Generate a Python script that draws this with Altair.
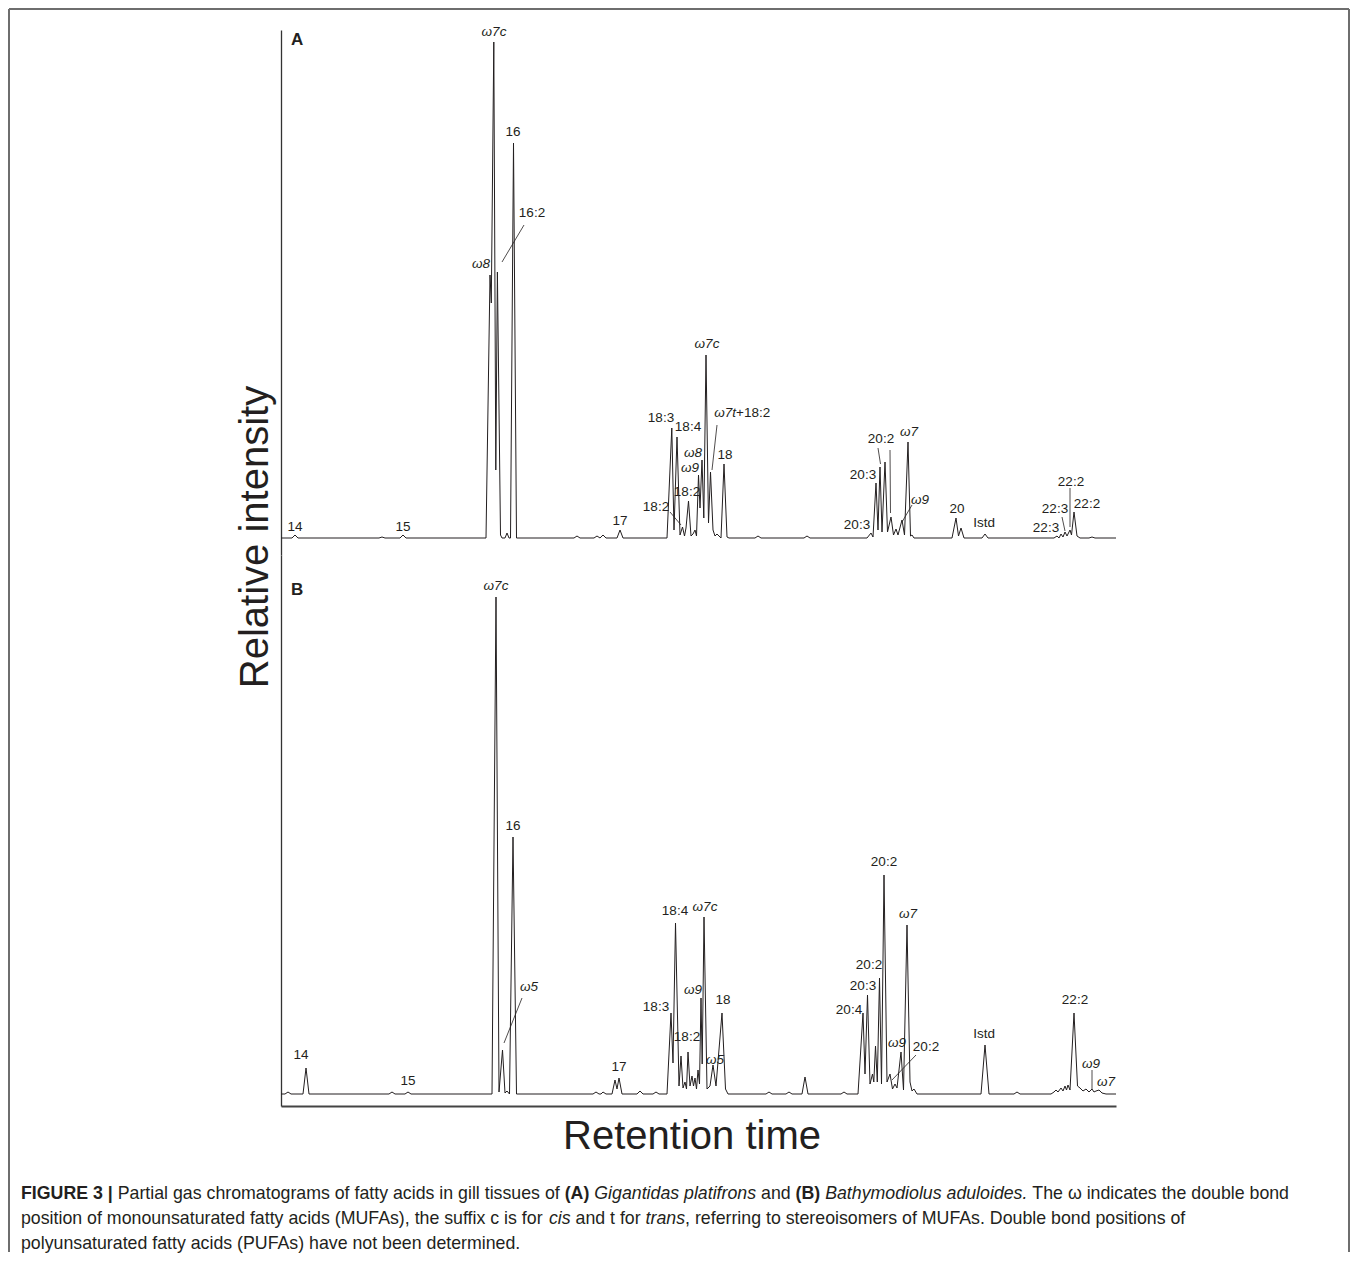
import altair as alt
import pandas as pd

FONT = "Liberation Sans"
INK = "#231f20"

# ---------------- Panel A : Gigantidas platifrons ----------------
# chromatogram vertices: (retention position, relative intensity)
trace_a = [
    (282, 0), (293, 0), (296, 3), (299, 0), (380, 0), (383, 1), (386, 0),
    (401, 0), (404, 3), (407, 0), (487, 0), (491, 263), (492.3, 235),
    (494.8, 496), (496.8, 68), (498.4, 266), (501.5, 3), (503, 0),
    (506, 0), (508, 5), (510, 0), (511.5, 0), (514.5, 395), (517.5, 0),
    (575, 0), (578, 2), (581, 0), (595, 0), (598, 2), (601, 0), (604, 3), (607, 0),
    (618, 0), (621, 8), (624, 0),
    (668, 0), (672.8, 110), (675, 8), (678, 101), (681, 3), (683.5, 11),
    (685.5, 2), (687, 10), (689.5, 37), (692, 2), (694, 4), (696, 8),
    (697.5, 2), (699.5, 63), (701, 30), (703, 78), (704.8, 20), (707, 183),
    (709.5, 15), (711.5, 66), (714, 8), (716, 2), (718, 4), (720, 2), (722, 0),
    (725, 74), (728, 1), (730, 0),
    (756, 0), (759, 2), (762, 0), (805, 0), (808, 2), (811, 0),
    (868, 0), (872, 5), (874, 1), (877, 55), (879, 8), (881, 71), (883, 6),
    (886, 76), (888.5, 6), (892, 21), (894.5, 3), (897, 9), (899, 3),
    (903, 18), (905.5, 3), (909, 96), (911.5, 2), (913, 3), (915, 0),
    (953, 0), (957, 20), (959.5, 2), (962, 10), (965, 0),
    (983, 0), (986, 4), (989, 0),
    (1055, 0), (1058, 2), (1060, 0), (1062, 4), (1064, 1), (1066, 6), (1068, 2),
    (1071, 8), (1072.5, 3), (1075, 26), (1078, 2), (1081, 0),
    (1090, 0), (1093, 1), (1096, 0), (1117, 0),
]
# peak labels: (text, retention position, intensity, style, align)
labels_a = [
    ("14", 296, 11, "r", "center"), ("15", 404, 11, "r", "center"),
    ("ω8", 482, 274, "i", "center"), ("ω7c", 495, 506, "i", "center"),
    ("16", 514, 406, "r", "center"), ("16:2", 533, 325, "r", "center"),
    ("17", 621, 17, "r", "center"),
    ("18:3", 662, 120, "r", "center"), ("18:4", 689, 111, "r", "center"),
    ("18:2", 657, 31, "r", "center"), ("18:2", 688, 46, "r", "center"),
    ("ω9", 691, 70, "i", "center"), ("ω8", 694, 85, "i", "center"),
    ("ω7c", 708, 194, "i", "center"),
    ("ω7t", 737, 125, "i", "right"), ("+18:2", 737, 125, "r", "left"),
    ("18", 726, 83, "r", "center"),
    ("20:3", 858, 13, "r", "center"), ("20:3", 864, 63, "r", "center"),
    ("20:2", 882, 99, "r", "center"), ("ω7", 910, 106, "i", "center"),
    ("ω9", 921, 38, "i", "center"), ("20", 958, 29, "r", "center"),
    ("Istd", 985, 15, "r", "center"),
    ("22:3", 1047, 10, "r", "center"), ("22:3", 1056, 29, "r", "center"),
    ("22:2", 1072, 56, "r", "center"), ("22:2", 1088, 34, "r", "center"),
]
# leader lines: (x1, y1, x2, y2)
leaders_a = [
    (525, 313, 503, 276), (671, 26, 682, 13), (718, 113, 713, 68),
    (879, 90, 881.5, 74), (891, 88, 891.5, 25), (913, 33, 903, 16),
    (1063, 21, 1066, 7), (1071, 50, 1071, 11),
]

# ---------------- Panel B : Bathymodiolus aduloides ----------------
trace_b = [
    (282, 0), (286, 0), (289, 2), (292, 0), (304, 0), (307, 26), (310, 0),
    (390, 0), (393, 2), (396, 0), (406, 0), (409, 2), (412, 0),
    (493, 0), (497, 497), (500, 2), (503.5, 44), (506, 1), (508, 3), (510.5, 0),
    (514, 257), (517.5, 0),
    (594, 0), (597, 2), (600, 0), (602, 0), (604, 2), (607, 0),
    (613, 0), (616, 14), (618, 5), (620, 16), (623, 0),
    (638, 0), (641, 3), (644, 0), (654, 0), (657, 2), (660, 0),
    (668, 0), (672, 81), (674, 31), (676.5, 171), (680, 8), (682, 38), (684, 6),
    (686, 12), (687.5, 5), (689, 42), (691, 8), (693, 18), (694.5, 8), (696, 16),
    (697.5, 5), (699, 24), (700.5, 10), (702, 96), (703.2, 30), (705, 177),
    (708, 5), (711, 8), (714, 29), (717, 8), (723, 81), (726.5, 5), (729, 0),
    (767, 0), (770, 2), (773, 0), (787, 0), (790, 2), (793, 0),
    (803, 0), (806, 17), (809, 0), (842, 0), (845, 2), (848, 0),
    (859, 0), (864, 81), (866, 20), (868.5, 99), (871, 10), (873.5, 20),
    (874.8, 12), (876.5, 48), (878.3, 12), (880.5, 116), (882.5, 10), (885, 219),
    (888, 12), (891, 20), (893.5, 5), (896, 10), (898, 6), (902, 42), (904.5, 4),
    (908, 169), (911, 12), (913, 3), (915, 5), (918, 0),
    (982, 0), (986, 49), (990, 0), (1015, 0), (1018, 2), (1021, 0),
    (1052, 0), (1055, 2), (1057, 4), (1059, 2), (1062, 6), (1064, 3), (1066, 8),
    (1067.5, 4), (1069, 9), (1071, 4), (1075, 81), (1078.5, 8), (1081, 6),
    (1084, 3), (1087, 5), (1090, 2), (1093, 5), (1095, 2), (1097, 3), (1100, 4),
    (1103, 1), (1107, 0), (1117, 0),
]
labels_b = [
    ("14", 302, 39, "r", "center"), ("15", 409, 13, "r", "center"),
    ("ω7c", 497, 508, "i", "center"), ("16", 514, 268, "r", "center"),
    ("ω5", 530, 107, "i", "center"), ("17", 620, 27, "r", "center"),
    ("18:3", 657, 87, "r", "center"), ("18:4", 676, 183, "r", "center"),
    ("18:2", 688, 57, "r", "center"), ("ω9", 694, 104, "i", "center"),
    ("ω7c", 706, 187, "i", "center"), ("ω5", 716, 34, "i", "center"),
    ("18", 724, 94, "r", "center"),
    ("20:4", 850, 84, "r", "center"), ("20:3", 864, 108, "r", "center"),
    ("20:2", 870, 129, "r", "center"), ("20:2", 885, 232, "r", "center"),
    ("ω7", 909, 180, "i", "center"), ("ω9", 898, 51, "i", "center"),
    ("20:2", 927, 47, "r", "center"),
    ("Istd", 985, 60, "r", "center"), ("22:2", 1076, 94, "r", "center"),
    ("ω9", 1092, 30, "i", "center"), ("ω7", 1107, 12, "i", "center"),
]
leaders_b = [(523, 96, 505, 51), (917, 39, 893, 14), (1093, 24, 1093, 5)]

# ---------------- Caption ----------------
caption_lines = [
    [("FIGURE 3 |", "b"), (" Partial gas chromatograms of fatty acids in gill tissues of ", "r"),
     ("(A)", "b"), (" Gigantidas platifrons", "i"), (" and ", "r"), ("(B)", "b"),
     (" Bathymodiolus aduloides.", "i"), (" The ω indicates the double bond", "r")],
    [("position of monounsaturated fatty acids (MUFAs), the suffix c is for ", "r"),
     ("cis", "i"), (" and t for ", "r"), ("trans", "i"),
     (", referring to stereoisomers of MUFAs. Double bond positions of", "r")],
    [("polyunsaturated fatty acids (PUFAs) have not been determined.", "r")],
]

# Arial / Liberation Sans advance widths (1/1000 em) used to lay the caption runs
REG = {' ': 278, '(': 333, ')': 333, ',': 278, '.': 278, ':': 278, '|': 260, '-': 333,
       'A': 667, 'B': 667, 'C': 722, 'D': 722, 'E': 667, 'F': 611, 'G': 778, 'H': 722,
       'I': 278, 'J': 500, 'K': 667, 'L': 556, 'M': 833, 'N': 722, 'O': 778, 'P': 667,
       'Q': 778, 'R': 722, 'S': 667, 'T': 611, 'U': 722, 'V': 667, 'W': 944, 'X': 667,
       'Y': 667, 'Z': 611, 'a': 556, 'b': 556, 'c': 500, 'd': 556, 'e': 556, 'f': 278,
       'g': 556, 'h': 556, 'i': 222, 'j': 222, 'k': 500, 'l': 222, 'm': 833, 'n': 556,
       'o': 556, 'p': 556, 'q': 556, 'r': 333, 's': 500, 't': 278, 'u': 556, 'v': 500,
       'w': 722, 'x': 500, 'y': 500, 'z': 500, 'ω': 780}
BOLD = {' ': 278, '(': 333, ')': 333, '|': 280, 'A': 722, 'B': 722, 'E': 667, 'F': 611,
        'G': 778, 'I': 278, 'R': 722, 'U': 722}


def em(s, table):
    return sum(table.get(ch, 556) for ch in s) / 1000.0


line1_em = sum(em(t, BOLD if st == "b" else REG) for t, st in caption_lines[0])
CAP_SIZE = (1290 - 22) / line1_em
CAP_X0 = 22 - 282
CAP_Y = [1199 - 1106, 1224 - 1106, 1249 - 1106]

cap_rows = []
for li, segs in enumerate(caption_lines):
    x = 0.0
    for text, st in segs:
        tbl = BOLD if st == "b" else REG
        lead = len(text) - len(text.lstrip(" "))
        x += em(" " * lead, tbl) * CAP_SIZE
        cap_rows.append({"s": text.strip(" "), "st": st, "cx": CAP_X0 + x, "cy": CAP_Y[li]})
        x += em(text.lstrip(" "), tbl) * CAP_SIZE
cap_df = pd.DataFrame(cap_rows)

X_SCALE = alt.Scale(domain=[282, 1117], nice=False, zero=False)
ONE = pd.DataFrame({"k": [0]})


def make_panel(trace, labels, leaders, ydom, show_x):
    ys = alt.Scale(domain=ydom, nice=False, zero=False)
    xaxis = (alt.Axis(domain=True, domainColor="#444444", domainWidth=2, ticks=False,
                      labels=False, grid=False, title=None) if show_x else None)
    yaxis = alt.Axis(domain=True, domainColor="#333333", domainWidth=1.3, ticks=False,
                     labels=False, grid=False, title=None)
    tdf = pd.DataFrame(trace, columns=["rt", "inten"])
    tdf["i"] = range(len(tdf))
    line = alt.Chart(tdf).mark_line(color=INK, strokeWidth=1, strokeJoin="round").encode(
        x=alt.X("rt:Q", scale=X_SCALE, axis=xaxis),
        y=alt.Y("inten:Q", scale=ys, axis=yaxis),
        order="i:Q",
    )
    ldf = pd.DataFrame(labels, columns=["t", "rt", "inten", "st", "al"])
    layers = [line]
    for st in ["r", "i"]:
        for al in ["center", "left", "right"]:
            sub = ldf[(ldf.st == st) & (ldf.al == al)]
            if len(sub) == 0:
                continue
            layers.append(
                alt.Chart(sub).mark_text(font=FONT, fontSize=13.5, color=INK, align=al,
                                         baseline="middle",
                                         fontStyle="italic" if st == "i" else "normal").encode(
                    x=alt.X("rt:Q", scale=X_SCALE, axis=xaxis),
                    y=alt.Y("inten:Q", scale=ys, axis=yaxis),
                    text="t:N",
                )
            )
    rdf = pd.DataFrame(leaders, columns=["x1", "y1", "x2", "y2"])
    layers.append(
        alt.Chart(rdf).mark_rule(color=INK, strokeWidth=0.8).encode(
            x=alt.X("x1:Q", scale=X_SCALE, axis=xaxis),
            y=alt.Y("y1:Q", scale=ys, axis=yaxis),
            x2="x2:Q", y2="y2:Q",
        )
    )
    return layers


layers_a = make_panel(trace_a, labels_a, leaders_a, [-17, 508], False)
layers_b = make_panel(trace_b, labels_b, leaders_b, [-12, 539], True)

# panel letters, axis titles, frame
letter_a = alt.Chart(ONE).mark_text(font=FONT, fontSize=17, fontWeight="bold", color=INK,
                                    align="left", baseline="middle").encode(
    x=alt.value(10), y=alt.value(10), text=alt.value("A"))
letter_b = alt.Chart(ONE).mark_text(font=FONT, fontSize=17, fontWeight="bold", color=INK,
                                    align="left", baseline="middle").encode(
    x=alt.value(10), y=alt.value(35), text=alt.value("B"))
ytitle = alt.Chart(ONE).mark_text(font=FONT, fontSize=40, color=INK, angle=270,
                                  align="center", baseline="alphabetic").encode(
    x=alt.value(-13), y=alt.value(507), text=alt.value("Relative intensity"))
xtitle = alt.Chart(ONE).mark_text(font=FONT, fontSize=40, color=INK,
                                  align="center", baseline="alphabetic").encode(
    x=alt.value(411), y=alt.value(594), text=alt.value("Retention time"))

FRAME = "#6e6e6e"
frame_l = alt.Chart(ONE).mark_rule(color=FRAME, strokeWidth=2).encode(
    x=alt.value(-272), y=alt.value(-21), y2=alt.value(1222))
frame_t = alt.Chart(ONE).mark_rule(color=FRAME, strokeWidth=2).encode(
    x=alt.value(-272), x2=alt.value(1068), y=alt.value(-21))
frame_r = alt.Chart(ONE).mark_rule(color=FRAME, strokeWidth=2).encode(
    x=alt.value(1068), y=alt.value(-21), y2=alt.value(1222))

panel_a = alt.layer(*layers_a, letter_a, ytitle, frame_l, frame_t, frame_r).properties(
    width=835, height=525)
panel_b = alt.layer(*layers_b, letter_b, xtitle).properties(width=835, height=551)

cap_layers = []
for st, kw in [("r", {}), ("b", {"fontWeight": "bold"}), ("i", {"fontStyle": "italic"})]:
    sub = cap_df[cap_df.st == st]
    cap_layers.append(
        alt.Chart(sub).mark_text(font=FONT, fontSize=CAP_SIZE, color=INK, align="left",
                                 baseline="alphabetic", **kw).encode(
            x=alt.X("cx:Q", scale=None, axis=None),
            y=alt.Y("cy:Q", scale=None, axis=None),
            text="s:N",
        )
    )
caption = alt.layer(*cap_layers).properties(width=835, height=100)

chart = (
    alt.vconcat(panel_a, panel_b, caption, spacing=0, bounds="flush")
    .properties(padding=0)
    .configure(background="white")
    .configure_view(stroke="transparent", strokeWidth=0)
)

chart.save("out.html", embed_options={"renderer": "svg", "actions": False})
